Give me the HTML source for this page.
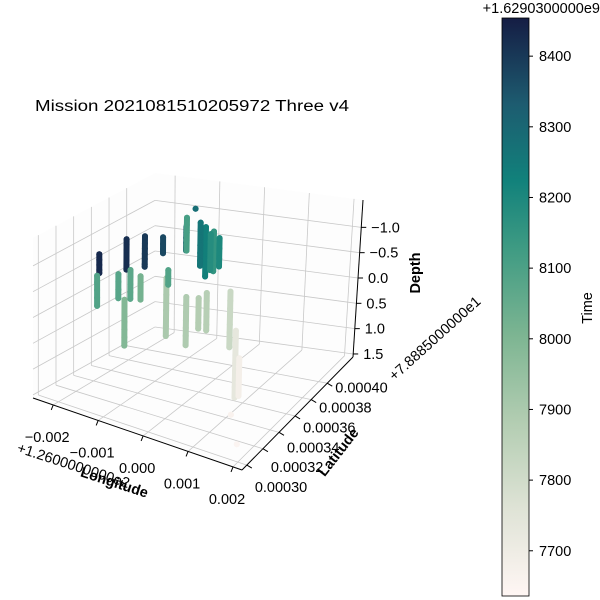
<!DOCTYPE html>
<html><head><meta charset="utf-8"><style>
body{margin:0;background:#fff;}
svg{display:block;font-family:"Liberation Sans","DejaVu Sans",sans-serif;}
</style></head><body>
<svg id="chart" width="600" height="600" viewBox="0 0 600 600">
<defs>
<linearGradient id="tempo" x1="0" y1="1" x2="0" y2="0">
<stop offset="0" stop-color="#fff6f4"/>
<stop offset="0.15" stop-color="#dfe3d6"/>
<stop offset="0.3" stop-color="#b3cdb2"/>
<stop offset="0.45" stop-color="#7db592"/>
<stop offset="0.6" stop-color="#3f9b83"/>
<stop offset="0.72" stop-color="#11817b"/>
<stop offset="0.85" stop-color="#1d5c70"/>
<stop offset="1" stop-color="#151d44"/>
</linearGradient>
</defs>
<text x="192" y="111" font-size="15.5" text-anchor="middle" textLength="314" lengthAdjust="spacingAndGlyphs">Mission 2021081510205972 Three v4</text>
<g id="grid"></g>
<g id="points"></g>
<g id="labels" font-size="14.5"></g>
<rect x="502" y="18" width="27" height="578" fill="url(#tempo)" stroke="#000" stroke-width="0.8"/>
<g id="cbticks" font-size="14.5"></g>
<text x="600" y="13" font-size="14.5" text-anchor="end">+1.6290300000e9</text>
<text x="592" y="308" font-size="14.5" text-anchor="middle" transform="rotate(-90 592 308)">Time</text>
</svg>
<script>
const colLon=[-0.00233,-0.00172,-0.00131,-0.00157,-0.00105,-0.00104,-0.00061,-0.00043,-0.00073,-0.00238,-0.00190,-0.00163,-0.00176,-0.00082,-0.00078,-0.00037,-0.00009,0.00009,0.00062,0.00076,0.00085,0.00144,0.00183,-0.00085,-0.00050,-0.00030,-0.00140];
const colLat=[0.000363,0.000363,0.000363,0.000397,0.000397,0.000397,0.000397,0.000397,0.000397,0.000363,0.000363,0.000363,0.000363,0.000363,0.000363,0.000363,0.000363,0.000363,0.000363,0.000363,0.000363,0.000322,0.000308,0.000397,0.000397,0.000397,0.000363];
const colTime=[8430,8420,8400,8370,8320,8110,8230,8150,8260,8090,8080,8070,7990,7900,8090,7890,7880,7870,7820,7730,7680,7660,7650,8280,8180,8200,8020];
const colDepths=[
[-0.61,-0.5,-0.4,-0.3,-0.24],
[-1.01,-0.9,-0.8,-0.7,-0.6,-0.5,-0.42],
[-1.14,-1.0,-0.9,-0.8,-0.7,-0.6,-0.55],
[-0.73,-0.6,-0.5,-0.42],
[-1.01,-0.9,-0.8,-0.7,-0.6,-0.55],
[-1.19,-1.05,-0.9,-0.75,-0.6,-0.55],
[-1.07,-0.9,-0.75,-0.6,-0.45,-0.3,-0.11],
[-1.01,-0.85,-0.7,-0.55,-0.4,-0.24],
[-1.14,-1.0,-0.85,-0.7,-0.55,-0.4,-0.3],
[-0.18,-0.05,0.1,0.25,0.41],
[-0.3,-0.15,0.0,0.17],
[-0.43,-0.3,-0.15,0.0,0.13],
[0.17,0.3,0.45,0.6,0.75,0.9,1.06],
[-0.42,-0.25,-0.1,0.05,0.2,0.35,0.5,0.69],
[-0.58,-0.45,-0.3],
[-0.14,0.0,0.15,0.3,0.45,0.6,0.78],
[-0.17,0.0,0.15,0.3,0.41],
[-0.3,-0.15,0.0,0.15,0.3,0.41],
[-0.42,-0.25,-0.1,0.05,0.2,0.35,0.5,0.63],
[0.29,0.45,0.6,0.75,0.9,1.05,1.2,1.35,1.55],
[0.79,0.95,1.1,1.25,1.5],
[1.16],
[1.40],
[-1.39],
[-0.95,-0.8,-0.6,-0.45,-0.25],
[-0.9,-0.7,-0.5,-0.35],
[-0.35,-0.2,0.0,0.1]
];
const lonTicks=[-0.002,-0.001,0.000,0.001,0.002];
const lonTickLabels=["\u22120.002","\u22120.001","0.000","0.001","0.002"];
const latTicks=[0.00030,0.00032,0.00034,0.00036,0.00038,0.00040];
const latTickLabels=["0.00030","0.00032","0.00034","0.00036","0.00038","0.00040"];
const depthTicks=[-1.0,-0.5,0.0,0.5,1.0,1.5];
const depthTickLabels=["\u22121.0","\u22120.5","0.0","0.5","1.0","1.5"];
const cbTicks=[7700,7800,7900,8000,8100,8200,8300,8400];

const LON=[-0.00245,0.0022],LAT=[0.000294,0.000432],DEP=[-1.54,1.56],TIME=[7636,8454];
const T={L:[33,238],F:[242,292],B:[155,173],R:[363,200]};
const Bt={L:[33,398],F:[242,470],B:[155,330],R:[353,357]};
function bil(c,u,v){const r=[0,0];for(let k=0;k<2;k++){r[k]=c.L[k]*(1-u)*(1-v)+c.F[k]*u*(1-v)+c.B[k]*(1-u)*v+c.R[k]*u*v;}return r;}
function projN(u,v,w){const a=bil(T,u,v),b=bil(Bt,u,v);return [a[0]+(b[0]-a[0])*w,a[1]+(b[1]-a[1])*w];}
const uS=x=>(x-LON[0])/(LON[1]-LON[0]);
const vS=y=>(y-LAT[0])/(LAT[1]-LAT[0]);
const wS=d=>(d-DEP[0])/(DEP[1]-DEP[0]);
const NS='http://www.w3.org/2000/svg';
function mk(tag,attrs,parent){const e=document.createElementNS(NS,tag);for(const k in attrs)e.setAttribute(k,attrs[k]);parent.appendChild(e);return e;}
function line(p,q,parent,col,sw){return mk('line',{x1:p[0],y1:p[1],x2:q[0],y2:q[1],stroke:col,'stroke-width':sw},parent);}
const grid=document.getElementById('grid');
const pl=mk('polygon',{points:[projN(0,0,0),projN(0,1,0),projN(0,1,1),projN(0,0,1)].map(p=>p.join(',')).join(' '),fill:'#fdfdfd'},grid);


const pr=mk('polygon',{points:[projN(0,1,0),projN(1,1,0),projN(1,1,1),projN(0,1,1)].map(p=>p.join(',')).join(' '),fill:'#fdfdfd'},grid);


const pf=mk('polygon',{points:[projN(0,0,1),projN(1,0,1),projN(1,1,1),projN(0,1,1)].map(p=>p.join(',')).join(' '),fill:'#fdfdfd'},grid);


const gc='#c8c8c8';
lonTicks.forEach(t=>{const u=uS(t);
 const a=line(projN(u,0,1),projN(u,1,1),grid,gc,0.8);
 const b=line(projN(u,1,1),projN(u,1,0),grid,gc,0.8);});
latTicks.forEach(t=>{const v=vS(t);
 const a=line(projN(0,v,1),projN(1,v,1),grid,gc,0.8);
 const b=line(projN(0,v,1),projN(0,v,0),grid,gc,0.8);});
depthTicks.forEach(t=>{const w=wS(t);
 const a=line(projN(0,0,w),projN(0,1,w),grid,gc,0.8);
 const b=line(projN(0,1,w),projN(1,1,w),grid,gc,0.8);});
const ax1=line(projN(0,0,1),projN(1,0,1),grid,'#000',1);
const ax2=line(projN(1,0,1),projN(1,1,1),grid,'#000',1);
const ax3=line(projN(1,1,1),projN(1,1,0),grid,'#000',1);

const cmStops=[[0,[255,246,244]],[0.15,[223,227,214]],[0.3,[179,205,178]],[0.45,[125,181,146]],[0.6,[63,155,131]],[0.72,[17,129,123]],[0.85,[29,92,112]],[1,[21,29,68]]];
function cmap(t){let f=(t-TIME[0])/(TIME[1]-TIME[0]);f=Math.max(0,Math.min(1,f));
 for(let i=1;i<cmStops.length;i++){if(f<=cmStops[i][0]){const a=cmStops[i-1],b=cmStops[i],k=(f-a[0])/(b[0]-a[0]);
 return 'rgb('+a[1].map((c,j)=>Math.round(c+(b[1][j]-c)*k)).join(',')+')';}}return 'rgb(21,29,68)';}
const pts=document.getElementById('points');
const order=colLon.map((_,i)=>i).sort((a,b)=>colLat[b]-colLat[a]);
order.forEach(i=>{const u=uS(colLon[i]),v=vS(colLat[i]);const ds=colDepths[i];const col=cmap(colTime[i]);
 const p0=projN(u,v,wS(ds[0])),p1=projN(u,v,wS(ds[ds.length-1]));
 const seg=mk('line',{x1:p0[0].toFixed(1),y1:p0[1].toFixed(1),x2:p1[0].toFixed(1),y2:p1[1].toFixed(1),stroke:col,'stroke-width':6,'stroke-linecap':'round'},pts);
 
 
 ds.forEach(d=>{const p=projN(u,v,wS(d));
 const c=mk('circle',{cx:p[0].toFixed(1),cy:p[1].toFixed(1),r:3,fill:col},pts);
 
 });});

const lab=document.getElementById('labels');
lonTicks.forEach((t,i)=>{const p=projN(uS(t),0,1);line(p,[p[0]-2,p[1]+5],lab,'#000',1);
 const e=mk('text',{x:p[0]-6,y:p[1]+37,'text-anchor':'middle'},lab);e.textContent=lonTickLabels[i];
 });
latTicks.forEach((t,i)=>{const p=projN(1,vS(t),1);line(p,[p[0]+5,p[1]+3],lab,'#000',1);
 const oy=27-i*3.5;
 const e=mk('text',{x:p[0]+8,y:p[1]+oy},lab);e.textContent=latTickLabels[i];
 });
depthTicks.forEach((t,i)=>{const p=projN(1,1,wS(t));line(p,[p[0]+5,p[1]],lab,'#000',1);
 const e=mk('text',{x:p[0]+10,y:p[1]+5},lab);e.textContent=depthTickLabels[i];
 });
const cb=document.getElementById('cbticks');
cbTicks.forEach(t=>{const y=596-(t-TIME[0])/(TIME[1]-TIME[0])*578;line([529,y],[533,y],cb,'#000',1);
 const e=mk('text',{x:539,y:y+5},cb);e.textContent=t;
 });
</script>
<svg width="600" height="600" style="position:absolute;left:0;top:0" font-family="Liberation Sans, sans-serif">
<text x="420" y="273" font-size="14.5" font-weight="bold" text-anchor="middle" transform="rotate(-90 420 273)">Depth</text>
<text x="438" y="342" font-size="14.5" text-anchor="middle" transform="rotate(-42 438 342)">+7.8885000000e1</text>
<text x="342" y="455" font-size="14.5" font-weight="bold" text-anchor="middle" transform="rotate(-52 342 455)">Latitude</text>
<text x="72" y="470" font-size="14.5" text-anchor="middle" transform="rotate(18 72 470)">+1.2600000000e2</text>
<text x="113" y="487" font-size="14.5" font-weight="bold" text-anchor="middle" transform="rotate(18 113 487)">Longitude</text>
</svg>
</body></html>
